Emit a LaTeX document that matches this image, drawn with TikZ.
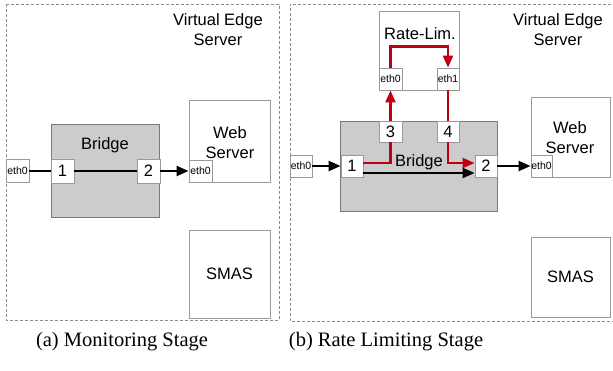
\documentclass[tikz,border=0pt]{standalone}
\usepackage{fontspec}
\setmainfont{Liberation Serif}
\newfontfamily\hv{Liberation Sans}
\usetikzlibrary{arrows.meta}
\definecolor{bord}{HTML}{999999}
\definecolor{dashc}{HTML}{8C8C8C}
\definecolor{bfill}{HTML}{CCCCCC}
\definecolor{flowred}{HTML}{C00010}
\tikzset{
  box/.style={draw=bord, line width=0.9pt, fill=white, inner sep=0pt, font=\hv\fontsize{16.5}{20}\selectfont, align=center},
  bridgebox/.style={draw=bord!80!black, line width=0.9pt, fill=bfill, inner sep=0pt},
  port/.style={draw=bord, line width=0.9pt, fill=white, inner sep=0pt, font=\hv\fontsize{16.5}{20}\selectfont},
  ethport/.style={draw=bord, line width=0.9pt, fill=white, inner sep=0pt, font=\hv\fontsize{10.5}{12}\selectfont},
  lbl/.style={inner sep=0pt, font=\hv\fontsize{16.5}{20}\selectfont, align=center},
  captext/.style={inner sep=0pt, font=\fontsize{20.5}{24}\selectfont},
  vm/.style={draw=dashc, line width=0.8pt, dash pattern=on 3pt off 2pt},
  flow/.style={line width=2.3pt, -{Triangle[length=12pt,width=10pt]}},
  flowline/.style={line width=2.3pt},
  rflow/.style={line width=2.3pt, draw=flowred, -{Triangle[length=12pt,width=10pt]}, color=flowred},
  rline/.style={line width=2.3pt, draw=flowred},
}
\begin{document}
\begin{tikzpicture}[x=1pt,y=-1pt]
\useasboundingbox[fill=white] (0,0) rectangle (613,370);
% dashed server boxes
\draw[vm] (6,4) rectangle (279,320);
\draw[vm] (616,4) -- (290,4) -- (290,321) -- (616,321);
\node[lbl] (vesA) at (218,30) {Virtual Edge\\Server};
\node[lbl] (vesB) at (558,30) {Virtual Edge\\Server};

% ---------- left panel ----------
\node[bridgebox, minimum width=108pt, minimum height=93pt] (Lbr) at (105,170.5) {};
\node[lbl] (Lbrl) at (105,145) {Bridge};
\node[ethport, minimum width=23pt, minimum height=23pt] (Leth) at (17.5,171) {eth0};
\node[port, minimum width=23pt, minimum height=24pt] (Lp1) at (62.5,171) {1};
\node[port, minimum width=23pt, minimum height=24pt] (Lp2) at (148.5,171) {2};
\node[box, minimum width=81pt, minimum height=82pt] (Lweb) at (229.5,141) {};
\node[lbl] (Lwebl) at (230,143) {Web\\Server};
\node[ethport, minimum width=23pt, minimum height=22pt] (Lweth) at (200.5,171) {eth0};
\node[box, minimum width=81pt, minimum height=88pt] (Lsmas) at (229.5,274) {SMAS};
\draw[flowline] (Leth) -- (Lp1);
\draw[flowline] (Lp1) -- (Lp2);
\draw[flow] (Lp2) -- (Lweth);

% ---------- right panel ----------
\node[box, minimum width=80pt, minimum height=79pt] (RL) at (419,50.5) {};
\node[lbl] (RLl) at (420,34) {Rate-Lim.};
\node[ethport, minimum width=23pt, minimum height=22pt] (RLe0) at (390.5,79) {eth0};
\node[ethport, minimum width=22pt, minimum height=22pt] (RLe1) at (448,79) {eth1};
\node[bridgebox, minimum width=157pt, minimum height=90pt] (Rbr) at (418.5,166) {};
\node[lbl] (Rbrl) at (419,162) {Bridge};
\node[ethport, minimum width=22pt, minimum height=22pt] (Reth) at (301,166) {eth0};
\node[port, minimum width=22pt, minimum height=22pt] (Rp1) at (352,166) {1};
\node[port, minimum width=22pt, minimum height=22pt] (Rp2) at (486,166) {2};
\node[port, minimum width=23pt, minimum height=21pt] (Rp3) at (390.5,131.5) {3};
\node[port, minimum width=22pt, minimum height=21pt] (Rp4) at (448,131.5) {4};
\node[box, minimum width=79pt, minimum height=80pt] (Rweb) at (570.5,137) {};
\node[lbl] (Rwebl) at (570,138) {Web\\Server};
\node[ethport, minimum width=21pt, minimum height=22pt] (Rweth) at (541.5,166) {eth0};
\node[box, minimum width=79pt, minimum height=80pt] (Rsmas) at (570.5,277) {SMAS};

\draw[flow] (Reth) -- (Rp1);
\draw[flow] ([yshift=-7pt]Rp1.east) -- ([yshift=-7pt]Rp2.west);
\draw[flow] (Rp2) -- (Rweth);
\draw[rline] ([yshift=3pt]Rp1.east) -| (Rp3.south);
\draw[rflow] (Rp3.north) -- (RLe0.south);
\draw[rflow] (RLe0.north) -- ++(0,-21) -| (RLe1.north);
\draw[rline] (RLe1.south) -- (Rp4.north);
\draw[rflow] (Rp4.south) |- ([yshift=3pt]Rp2.west);

% captions
\node[captext] (capA) at (122,342) {(a) Monitoring Stage};
\node[captext] (capB) at (386,342) {(b) Rate Limiting Stage};
\end{tikzpicture}
\end{document}
